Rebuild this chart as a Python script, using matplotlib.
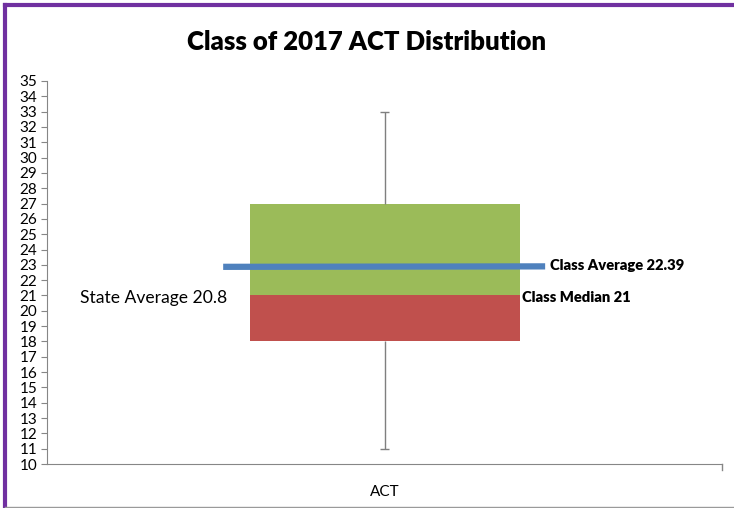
import matplotlib.pyplot as plt
from matplotlib.lines import Line2D

plt.rcParams['font.family'] = ['Lato', 'DejaVu Sans']

# box plot values (ACT scores)
category = 'ACT'
whisker_low = 11
q1 = 18
median = 21
q3 = 27
whisker_high = 33
class_avg_line = 22.87   # where the average line is drawn in the picture
class_avg_label = 'Class Average 22.39'
median_label = 'Class Median 21'
state_label = 'State Average 20.8'
state_avg = 20.8

fig = plt.figure(figsize=(7.34, 5.08), dpi=100)
ax = fig.add_axes([47 / 734, 1 - 464 / 508, 675 / 734, 383 / 508])

# stacked bars: hidden base, red lower box, green upper box
ax.bar(0, q1, width=0.4, color='none')
ax.bar(0, median - q1, bottom=q1, width=0.4, color='#C0504D')
ax.bar(0, q3 - median, bottom=median, width=0.4, color='#9BBB59')

# whiskers
ax.vlines(0, whisker_low, q1, color='#7f7f7f', lw=1, zorder=1)
ax.vlines(0, q3, whisker_high, color='#7f7f7f', lw=1, zorder=1)
ax.hlines([whisker_low, whisker_high], -0.006, 0.006, color='#7f7f7f', lw=1)

# class average line
ax.plot([-0.239, 0.238], [class_avg_line, class_avg_line + 0.03],
        color='#4F81BD', lw=4.5, solid_capstyle='butt', zorder=3)

ax.text(0.245, class_avg_line + 0.1, class_avg_label, fontsize=10.6,
        fontweight='heavy', va='center', ha='left')
ax.text(0.203, 20.9, median_label, fontsize=10.6, fontweight='heavy',
        va='center', ha='left')
ax.text(-0.451, state_avg + 0.05, state_label, fontsize=12.6,
        va='center', ha='left')

ax.set_xlim(-0.5, 0.5)
ax.set_ylim(10, 35)
ax.set_yticks(range(10, 36))
ax.set_xticks([0])
ax.set_xticklabels([category])
ax.tick_params(axis='y', labelsize=11, length=4, color='#868686', pad=3)
ax.tick_params(axis='x', labelsize=11, length=0, pad=15)
for s in ['top', 'right']:
    ax.spines[s].set_visible(False)
for s in ['left', 'bottom']:
    ax.spines[s].set_color('#868686')
ax.plot([1, 1], [0, -0.015], transform=ax.transAxes, color='#868686',
        lw=1, clip_on=False)

fig.text(0.5, 1 - 42 / 508, 'Class of 2017 ACT Distribution', ha='center',
         va='center', fontsize=18.5, fontweight='heavy')

# purple frame on left/top, gray at bottom
fig.add_artist(Line2D([5 / 734, 5 / 734], [0, 1 - 5 / 508], color='#7030A0',
                      lw=3, transform=fig.transFigure))
fig.add_artist(Line2D([5 / 734, 1], [1 - 5 / 508, 1 - 5 / 508],
                      color='#7030A0', lw=3, transform=fig.transFigure))
fig.add_artist(Line2D([5 / 734, 1], [1.5 / 508, 1.5 / 508], color='#9a9a9a',
                      lw=1, transform=fig.transFigure))

fig.savefig('out.png', dpi=100)
